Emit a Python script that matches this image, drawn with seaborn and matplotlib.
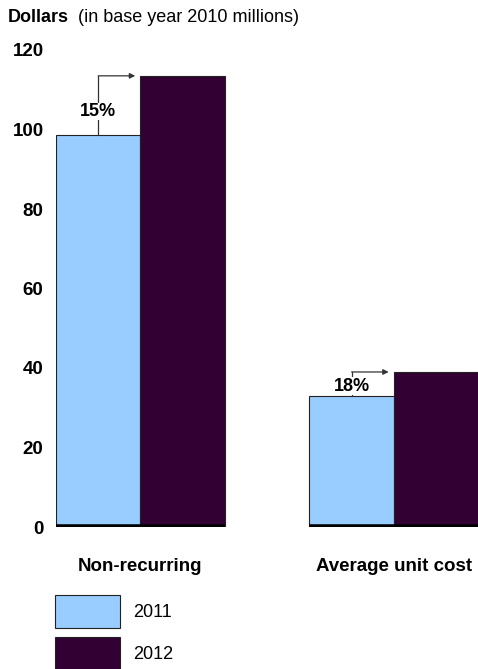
import seaborn as sns
import matplotlib.pyplot as plt
import pandas as pd

categories = ["Non-recurring", "Average unit cost"]
years = ["2011", "2012"]
values_2011 = [98.5, 33.0]
values_2012 = [113.5, 39.0]
pct_labels = ["15%", "18%"]
colors = ["#99CCFF", "#330033"]

df = pd.DataFrame({
    "category": categories * 2,
    "year": [years[0]] * 2 + [years[1]] * 2,
    "value": values_2011 + values_2012,
})

sns.set_theme(style="white")
plt.rcParams["font.family"] = ["Liberation Sans", "DejaVu Sans"]
plt.rcParams["text.color"] = "black"
plt.rcParams["xtick.color"] = "black"
plt.rcParams["ytick.color"] = "black"

fig = plt.figure(figsize=(4.78, 6.69), dpi=100)
ax = fig.add_axes([56 / 478, 1 - 527 / 669, 1 - 56 / 478, (527 - 50) / 669])

sns.barplot(data=df, x="category", y="value", hue="year", palette=colors,
            saturation=1, width=0.665, edgecolor="#222222", linewidth=0.8,
            ax=ax, legend=True)

ax.set_ylim(0, 120)
ax.set_xlim(-0.3325, 1.3325)
ax.set_yticks([0, 20, 40, 60, 80, 100, 120])
ax.set_yticklabels(["0", "20", "40", "60", "80", "100", "120"], fontweight="bold", fontsize=13.5)
ax.tick_params(axis="y", length=0, pad=9)
ax.tick_params(axis="x", length=0, pad=22)
for lab in ax.get_xticklabels():
    lab.set_fontweight("bold")
    lab.set_fontsize(13.5)
ax.set_xlabel("")
ax.set_ylabel("")
for s in ax.spines.values():
    s.set_visible(False)

# thick baseline under each group of bars
n = len(categories)
bars_11 = ax.patches[:n]
bars_12 = ax.patches[n:2 * n]
for b1, b2 in zip(bars_11, bars_12):
    ax.hlines(0, b1.get_x(), b2.get_x() + b2.get_width(), color="black", lw=4, zorder=5)

# growth arrows
for b1, b2, txt in zip(bars_11, bars_12, pct_labels):
    xc = b1.get_x() + b1.get_width() / 2
    y1 = b1.get_height()
    y2 = b2.get_height()
    ax.plot([xc, xc], [y1, y2], color="#333333", lw=0.9, zorder=3)
    ax.annotate("", xy=(b2.get_x() - 0.02, y2), xytext=(xc, y2),
                arrowprops=dict(arrowstyle="-|>", color="#333333", lw=0.9,
                                mutation_scale=8, shrinkA=0, shrinkB=0))
    ax.text(xc, y1 + 0.4 * (y2 - y1), txt, ha="center", va="center", fontweight="bold",
            fontsize=13, zorder=4,
            bbox=dict(facecolor="white", edgecolor="none", pad=0.3))

handles, labels = ax.get_legend_handles_labels()
ax.legend_.remove()
fig.legend(handles, labels, loc="upper left", bbox_to_anchor=(55 / 478, 1 - 595 / 669),
           frameon=False, borderpad=0, borderaxespad=0, handlelength=3.6,
           handleheight=2.43, handletextpad=0.7, labelspacing=0.5, fontsize=13)

fig.text(8 / 478, 1 - 18 / 669, "Dollars", fontweight="bold", fontsize=13, va="center")
fig.text(78 / 478, 1 - 18 / 669, "(in base year 2010 millions)", fontsize=13, va="center")

fig.savefig("out.png", dpi=100)
